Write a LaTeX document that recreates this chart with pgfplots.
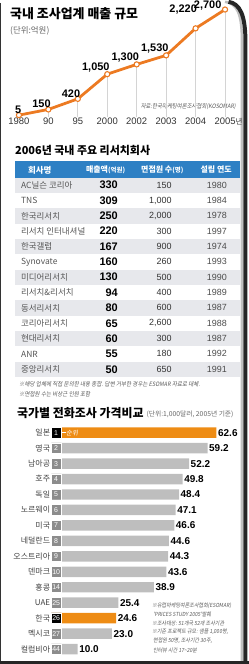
\documentclass[border=0pt]{standalone}
\usepackage{pgfplots}
\pgfplotsset{compat=1.18}
\usepackage{pgfplotstable}
\usepackage{fontspec}
\usepackage{graphicx}
\setmainfont{Noto Sans CJK KR}
\newfontfamily\lat{Liberation Sans}
\newfontfamily\cjki[FakeSlant=0.18]{Noto Sans CJK KR}
\newcommand{\fs}[1]{\fontsize{#1}{#1}\selectfont}
\definecolor{lineor}{HTML}{EC7A22}
\definecolor{baror}{HTML}{EE8C14}
\definecolor{hdrblue}{HTML}{2E80C4}
\definecolor{rowgray}{HTML}{E7E8EC}
\definecolor{bargray}{HTML}{BEBEBE}
\definecolor{rankgray}{HTML}{8C8C8C}
\definecolor{txtgray}{HTML}{555555}
\definecolor{vgray}{HTML}{D4D4D4}

% line chart: sales of the Korean research industry (100 million won)
\pgfplotstableread{
x y lab dx dy
0 5 5 3 1
1 150 150 3 1
2 420 420 3 1
3 1050 1,050 3 1
4 1300 1,300 3 1
5 1530 1,530 3 1
6 2220 2,220 2 14
7 2700 2,700 -3 -1
}\linedata

% bar chart: telephone survey prices (1,000 USD)
\pgfplotstableread{
y val lab rank box
13 59.2 59.2 2 3.7
12 52.2 52.2 3 3.7
11 49.8 49.8 4 3.7
10 48.4 48.4 5 3.7
9 47.1 47.1 6 3.7
8 46.6 46.6 7 3.7
7 44.6 44.6 8 3.7
6 44.3 44.3 9 3.7
5 43.6 43.6 10 3.7
4 38.9 38.9 14 3.7
3 25.4 25.4 25 3.7
1 23.0 23.0 27 3.7
0 10.0 10.0 44 3.7
}\graybars
\pgfplotstableread{
y val lab rank box
14 62.6 62.6 1 3.7
2 24.6 24.6 26 3.7
}\orangebars

\begin{document}
\begin{tikzpicture}
\begin{scope}[x=1pt,y=-1pt]
\useasboundingbox (0,0) rectangle (250,664);
% ---------- section 1 texts
\node[anchor=west, inner sep=0, font=\bfseries\fs{13}] at (10,11) {국내 조사업계 매출 규모};
\node[anchor=west, inner sep=0, font=\fs{8.5}, text=black!60] at (10,28) {(단위:억원)};
\node[anchor=east, inner sep=0] at (237,104) {\scalebox{0.9}[1]{\cjki\fs{6}\color{black!65}자료:한국마케팅여론조사협회(KOSOMAR)}};
% ---------- table
\node[anchor=west, inner sep=0, font=\bfseries\fs{11}] at (15,148) {2006년 국내 주요 리서치회사};
\fill[hdrblue] (15,159) rectangle (241,176.5);
\node[text=white, font=\bfseries\fs{8.5}] at (40,167.8) {회사명};
\node[text=white, font=\bfseries\fs{8}] at (106,167.8) {매출액{\fs{6.5}(억원)}};
\node[text=white, font=\bfseries\fs{8}] at (163,167.8) {면접원 수{\fs{6.5}(명)}};
\node[text=white, font=\bfseries\fs{8}] at (217,167.8) {설립 연도};
\foreach \i/\nm/\rv/\iv/\yr in {
 1/AC닐슨 코리아/330/150/1980,
 2/TNS/309/{1,000}/1984,
 3/한국리서치/250/{2,000}/1978,
 4/리서치 인터내셔널/220/300/1997,
 5/한국갤럽/167/900/1974,
 6/Synovate/160/260/1993,
 7/미디어리서치/130/500/1990,
 8/리서치\&리서치/94/400/1989,
 9/동서리서치/80/600/1987,
 10/코리아리서치/65/{2,600}/1988,
 11/현대리서치/60/300/1987,
 12/ANR/55/180/1992,
 13/중앙리서치/50/650/1991}{
  \pgfmathsetmacro\yc{183.2+15.4*(\i-1)}
  \ifodd\i \fill[rowgray] (15,\yc-7.7) rectangle (241,\yc+7.7); \fi
  \node[anchor=west, inner sep=0, font=\fs{8.5}, text=txtgray] at (21,\yc) {\nm};
  \node[anchor=east, inner sep=0, font=\lat\bfseries\fs{11}] at (118.5,\yc) {\rv};
  \node[anchor=east, inner sep=0, font=\lat\fs{9}, text=black!80] at (172.5,\yc) {\iv};
  \node[anchor=east, inner sep=0, font=\lat\fs{9}, text=black!70] at (228,\yc) {\yr};
}
\node[anchor=west, inner sep=0] at (19,383) {\scalebox{0.92}[1]{\cjki\fs{6}\color{black!65}※해당 업체에 직접 문의한 내용 종합. 답변 거부한 경우는 ESOMAR 자료로 대체.}};
\node[anchor=west, inner sep=0] at (19,393) {\scalebox{0.92}[1]{\cjki\fs{6}\color{black!65}※면접원 수는 비상근 인원 포함}};
% ---------- bar chart texts
\node[anchor=west, inner sep=0, font=\bfseries\fs{12}] at (17,412) {국가별 전화조사 가격비교};
\node[anchor=west, inner sep=0, font=\fs{6.8}, text=black!60] at (147,413) {(단위:1,000달러, 2005년 기준)};
\foreach \ly/\lt in {605/{※유럽마케팅여론조사협회(ESOMAR)}, 614/{\ 'PRICES STUDY 2005'발췌}, 623/{※조사대상: 51개국 52개 조사기관}, 632/{※기준 프로젝트 규모: 샘플 1,000명,}, 641/{\ 면접원 50명, 조사기간 30주,}, 650.5/{\ 인터뷰 시간 17\textasciitilde 20분}}{
  \node[anchor=west, inner sep=0] at (152.5,\ly) {\scalebox{0.9}[1]{\cjki\fs{5.6}\color{black!65}\lt}};
}
% ---------- frame
\draw[black!25, line width=2.5pt] (226,-1) .. controls (238,1) and (243,10) .. (243,40) -- (243,665);
\draw[black!85, line width=4pt] (229.5,-1) .. controls (241,1) and (246.5,12) .. (246.5,40) -- (246.5,665);
\draw[black!80, line width=1.2pt] (0.6,0) -- (0.6,664);
\draw[black!85, line width=3pt] (0,662.5) -- (250,662.5);
\end{scope}

% ---------- line chart
\begin{axis}[
  anchor=south west, at={(4.215pt,-113.98pt)},
  x=29.57pt, y=0.03933pt,
  xmin=-0.5, xmax=7.5, ymin=-25, ymax=2800,
  axis line style={draw=none}, tick style={draw=none},
  ytick=\empty, xtick={0,...,7},
  xticklabels={1980,90,95,2000,2002,2003,2004,2005\rlap{\normalfont\fs{7.5}년}},
  xticklabel style={font=\lat\fs{9.5}, text=black!80, inner sep=1pt},
  clip=false,
]
\addplot[draw=none, mark=none, forget plot,
  error bars/.cd, y dir=minus, y explicit, error mark=none,
  error bar style={draw=vgray, line width=0.9pt}]
  coordinates {(0,5) -= (0,55) (1,150) -= (0,200) (2,420) -= (0,470) (3,1050) -= (0,1100)
               (4,1300) -= (0,1350) (5,1530) -= (0,1580) (6,2220) -= (0,2270) (7,2700) -= (0,2750)};
\addplot[lineor, line width=2.8pt, mark=*, mark size=2.6pt,
  mark options={fill=white, draw=lineor, line width=1.1pt}]
  table[x=x,y=y] \linedata;
\addplot[draw=none, mark=none, nodes near coords, point meta=explicit symbolic,
  visualization depends on={\thisrow{dx} \as \labdx},
  visualization depends on={\thisrow{dy} \as \labdy},
  every node near coord/.append style={anchor=south east, xshift=\labdx pt, yshift=\labdy pt,
     font=\lat\bfseries\fs{11}, inner sep=0.5pt, text=black}]
  table[x=x,y=y,meta=lab] \linedata;
\end{axis}

% ---------- bar chart
\begin{axis}[
  anchor=south west, at={(51.5pt,-656.76pt)},
  x=2.65pt, y=15.52pt,
  xmin=0, xmax=72, ymin=-0.5, ymax=14.5,
  axis line style={draw=none}, tick style={draw=none},
  xtick=\empty, ytick={0,...,14},
  yticklabels={컬럼비아,멕시코,한국,UAE,홍콩,덴마크,오스트리아,네덜란드,미국,노르웨이,독일,호주,남아공,영국,일본},
  yticklabel style={font=\fs{8}, text=black!75, inner sep=1pt},
  clip=false,
  nodes near coords align={horizontal},
]
\addplot[xbar, bar shift=0pt, bar width=10.5pt, fill=bargray, draw=none,
  nodes near coords, nodes near coords align={horizontal}, point meta=explicit symbolic,
  every node near coord/.append style={anchor=west, font=\lat\bfseries\fs{10}, inner sep=1.5pt, text=black}]
  table[x=val, y=y, meta=lab] \graybars;
\addplot[xbar, bar shift=0pt, bar width=10.5pt, fill=baror, draw=none,
  nodes near coords, nodes near coords align={horizontal}, point meta=explicit symbolic,
  every node near coord/.append style={anchor=west, font=\lat\bfseries\fs{10}, inner sep=1.5pt, text=black}]
  table[x=val, y=y, meta=lab] \orangebars;
\addplot[xbar, bar shift=0pt, bar width=10.5pt, fill=rankgray, draw=white, line width=0.5pt,
  nodes near coords, point meta=explicit symbolic,
  every node near coord/.append style={anchor=center, xshift=-4.9pt, font=\lat\fs{7}, text=white, inner sep=0pt}]
  table[x=box, y=y, meta=rank] \graybars;
\addplot[xbar, bar shift=0pt, bar width=10.5pt, fill=black, draw=white, line width=0.5pt,
  nodes near coords, point meta=explicit symbolic,
  every node near coord/.append style={anchor=center, xshift=-4.9pt, font=\lat\fs{7}, text=white, inner sep=0pt}]
  table[x=box, y=y, meta=rank] \orangebars;
\draw[white, line width=0.6pt] (axis cs:3.7,14) -- (axis cs:5.4,14)
  node[anchor=west, inner sep=0.3pt, text=white, font=\cjki\fs{6.5}] {순위};
\end{axis}
\end{tikzpicture}
\end{document}
